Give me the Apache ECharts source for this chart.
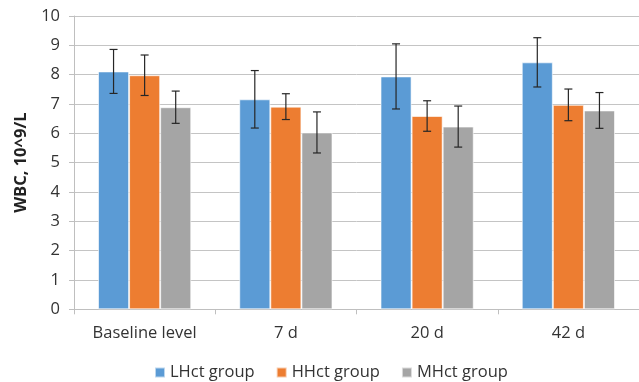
<!DOCTYPE html>
<html>
<head>
<meta charset="utf-8">
<script src="https://cdn.jsdelivr.net/npm/echarts@6/dist/echarts.min.js"></script>
<style>
  html, body { margin: 0; padding: 0; background: #fff; }
  #chart { width: 639px; height: 382px; }
</style>
</head>
<body>
<div id="chart"></div>
<script>
// Time points
const categories = ['Baseline level', '7 d', '20 d', '42 d'];

// Mean WBC (10^9/L) per group
const lhctMean = [8.11, 7.16, 7.94, 8.42];
const hhctMean = [7.98, 6.91, 6.59, 6.97];
const mhctMean = [6.89, 6.03, 6.23, 6.78];

// Standard deviations
const lhctSd = [0.75, 0.98, 1.11, 0.84];
const hhctSd = [0.69, 0.44, 0.52, 0.54];
const mhctSd = [0.55, 0.70, 0.70, 0.61];

const groupNames = ['LHct group', 'HHct group', 'MHct group'];
const colors = ['#5B9BD5', '#ED7D31', '#A5A5A5'];
const yTicks = [0, 1, 2, 3, 4, 5, 6, 7, 8, 9, 10];

const means = [lhctMean, hhctMean, mhctMean];
const sds = [lhctSd, hhctSd, mhctSd];

const CATEGORY_GAP = 0.34;
const FONT = '"Open Sans", Lato, sans-serif';
const TEXT_COLOR = '#333333';

const barSeries = means.map((m, i) => ({
  name: groupNames[i],
  type: 'bar',
  data: m,
  barGap: '0%',
  barCategoryGap: (CATEGORY_GAP * 100) + '%',
  itemStyle: { color: colors[i], borderColor: 'rgba(255,255,255,0.6)', borderWidth: 1 },
  emphasis: { disabled: true },
  z: 2
}));

// Error bars drawn per group, offset to sit on the matching bar
const errorSeries = means.map((m, i) => ({
  type: 'custom',
  name: groupNames[i] + ' sd',
  data: m.map((v, k) => [k, v - sds[i][k], v + sds[i][k]]),
  encode: { x: 0, y: [1, 2] },
  z: 5,
  silent: true,
  renderItem: function (params, api) {
    const idx = api.value(0);
    const lowPt = api.coord([idx, api.value(1)]);
    const highPt = api.coord([idx, api.value(2)]);
    const band = api.size([1, 0])[0];
    const barW = band * (1 - CATEGORY_GAP) / 3;
    const x = lowPt[0] + (i - 1) * barW;
    const half = 4;
    const style = { stroke: '#262626', lineWidth: 1.2 };
    return {
      type: 'group',
      children: [
        { type: 'line', shape: { x1: x, y1: highPt[1], x2: x, y2: lowPt[1] }, style },
        { type: 'line', shape: { x1: x - half, y1: highPt[1], x2: x + half, y2: highPt[1] }, style },
        { type: 'line', shape: { x1: x - half, y1: lowPt[1], x2: x + half, y2: lowPt[1] }, style }
      ]
    };
  }
}));

const chart = echarts.init(document.getElementById('chart'), null, { renderer: 'canvas' });
chart.setOption({
  animation: false,
  backgroundColor: '#ffffff',
  textStyle: { fontFamily: FONT },
  grid: { left: 74, top: 16, width: 569, height: 293.3, containLabel: false },
  legend: {
    data: groupNames,
    top: 359,
    left: 149,
    itemWidth: 10,
    itemHeight: 10,
    itemGap: 21,
    icon: 'rect',
    textStyle: { fontSize: 16.5, color: TEXT_COLOR, fontFamily: FONT }
  },
  xAxis: {
    type: 'category',
    data: categories,
    axisLine: { show: true, lineStyle: { color: '#bfbfbf', width: 1 } },
    axisTick: { show: true, length: 5, alignWithLabel: false, lineStyle: { color: '#bfbfbf' } },
    axisLabel: { fontSize: 16.5, color: TEXT_COLOR, margin: 15, fontFamily: FONT }
  },
  yAxis: {
    type: 'value',
    min: yTicks[0],
    max: yTicks[yTicks.length - 1],
    interval: 1,
    name: 'WBC, 10^9/L',
    nameLocation: 'middle',
    nameGap: 44,
    nameTextStyle: { fontSize: 16.5, fontWeight: 'bold', color: '#222222', fontFamily: FONT },
    axisLine: { show: true, lineStyle: { color: '#bfbfbf', width: 1 } },
    axisTick: { show: true, length: 5, lineStyle: { color: '#bfbfbf' } },
    axisLabel: { fontSize: 16.5, color: TEXT_COLOR, margin: 14, fontFamily: FONT },
    splitLine: { show: true, lineStyle: { color: '#c4c4c4', width: 1 } }
  },
  series: [...barSeries, ...errorSeries]
});
</script>
</body>
</html>
